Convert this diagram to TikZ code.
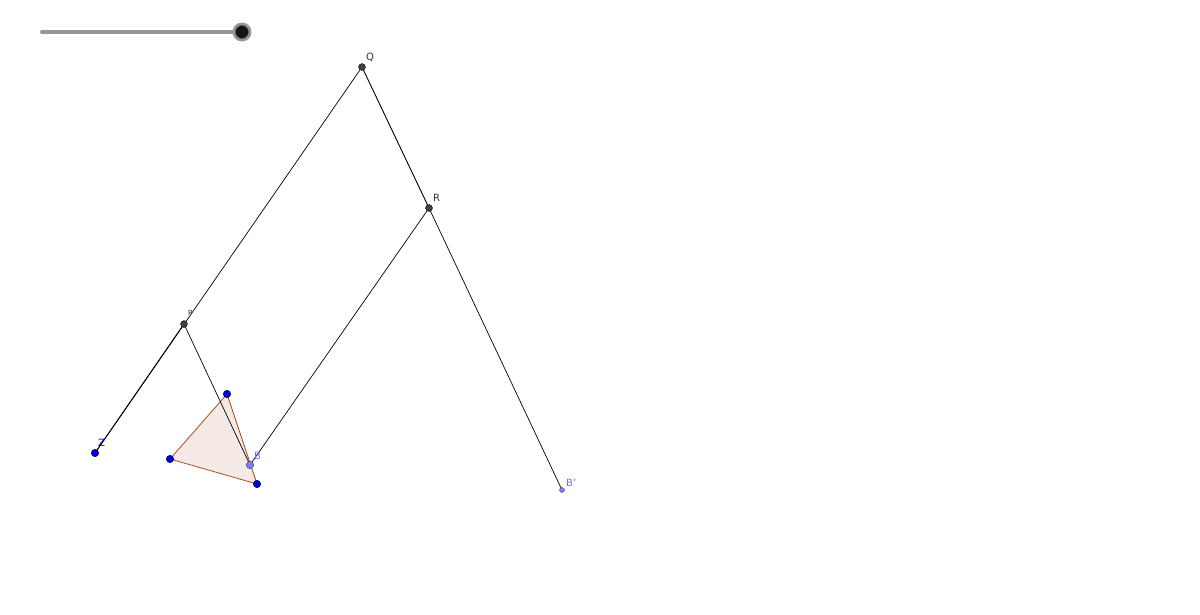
\documentclass[tikz,border=0pt]{standalone}
\usepackage{fontspec}
\setmainfont{DejaVu Sans}
\begin{document}
\begin{tikzpicture}[x=1pt,y=-1pt,
  seg/.style={black,line width=0.7pt},
  tri/.style={draw={rgb,255:red,170;green,80;blue,30},fill={rgb,255:red,244;green,233;blue,228},line width=0.8pt,line join=round},
  dpt/.style={circle,fill={rgb,255:red,64;green,64;blue,64},draw=black,line width=0.3pt,inner sep=0pt,minimum size=7pt},
  bpt/.style={circle,fill={rgb,255:red,0;green,0;blue,230},draw=black,line width=0.4pt,inner sep=0pt,minimum size=7.5pt},
  lbpt/.style={circle,fill={rgb,255:red,125;green,125;blue,255},draw={rgb,255:red,60;green,60;blue,60},line width=0.4pt,inner sep=0pt,minimum size=7.5pt},
  spt/.style={circle,fill={rgb,255:red,125;green,125;blue,255},draw={rgb,255:red,60;green,60;blue,60},line width=0.3pt,inner sep=0pt,minimum size=5pt},
  lab/.style={font=\fontsize{10}{11}\selectfont,inner sep=0pt,text={rgb,255:red,50;green,50;blue,50}},
  blab/.style={font=\fontsize{10}{11}\selectfont,inner sep=0pt,text={rgb,255:red,0;green,0;blue,230}},
  lblab/.style={font=\fontsize{10}{11}\selectfont,inner sep=0pt,text={rgb,255:red,110;green,110;blue,255}}]
\useasboundingbox (0,0) rectangle (1200,614);
% coordinates
\coordinate (q) at (362,67);
\coordinate (r) at (429,208);
\coordinate (p) at (184,324);
\coordinate (z) at (95,453);
\coordinate (b) at (250,465);
\coordinate (bp) at (562,490);
\coordinate (t1) at (227,394);
\coordinate (t2) at (170,459);
\coordinate (t3) at (257,484);
% slider
\coordinate (s0) at (42,32);
\coordinate (s1) at (242,32);
\draw[line width=4pt,line cap=round,color={rgb,255:red,150;green,150;blue,150}] (s0) -- (s1);
\node[circle,fill={rgb,255:red,150;green,150;blue,150},inner sep=0pt,minimum size=19pt] (knobring) at (s1) {};
\node[circle,fill=black!92,draw={rgb,255:red,90;green,90;blue,90},line width=0.6pt,inner sep=0pt,minimum size=13pt] (knob) at (s1) {};
% triangle
\draw[tri] (t1) -- (t2) -- (t3) -- cycle;
% lines
\draw[seg] (z) -- (q);
\draw[seg,line width=0.9pt] (z) -- (p);
\draw[seg,line width=0.9pt] (q) -- (r);
\draw[seg] (r) -- (bp);
\draw[seg] (p) -- (b);
\draw[seg] (r) -- (b);
% points
\node[dpt] (Q) at (q) {};
\node[dpt] (R) at (r) {};
\node[dpt] (P) at (p) {};
\node[bpt] (Z) at (z) {};
\node[bpt] (T1) at (t1) {};
\node[bpt] (T2) at (t2) {};
\node[bpt] (T3) at (t3) {};
\node[lbpt] (B) at (b) {};
\node[spt] (Bp) at (bp) {};
% labels
\node[lab,anchor=west] (lQ) at (366,57) {Q};
\node[lab,anchor=west] (lR) at (433,198) {R};
\node[lab,anchor=west,font=\fontsize{7}{8}\selectfont] (lP) at (188,313) {P};
\node[blab,anchor=west] (lZ) at (98,443) {Z};
\node[lblab,anchor=west] (lB) at (254,456) {B};
\node[lblab,anchor=west] (lBp) at (566,483) {B'};
\end{tikzpicture}
\end{document}
